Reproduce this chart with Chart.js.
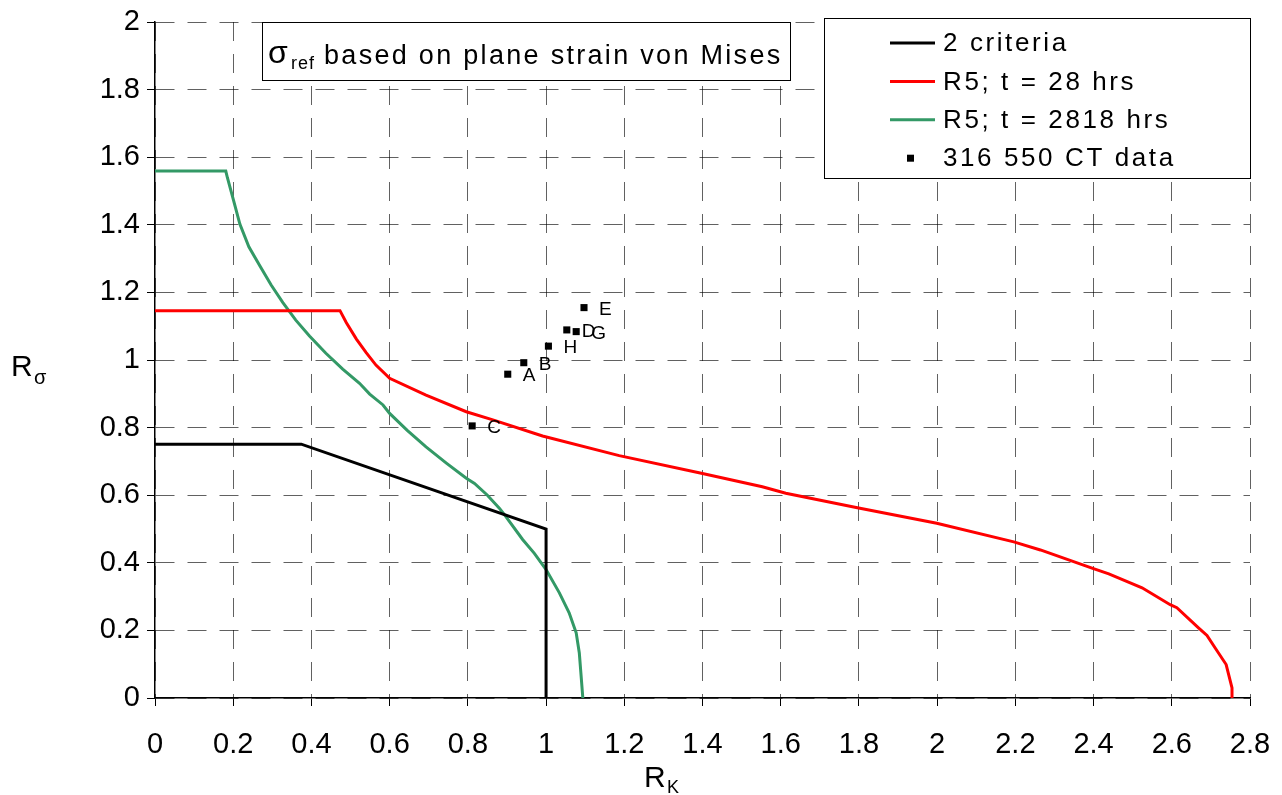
<!DOCTYPE html>
<html>
<head>
<meta charset="utf-8">
<script src="https://cdn.jsdelivr.net/npm/chart.js@4.4.0/dist/chart.umd.min.js"></script>
<style>
  body { margin: 0; background: #fff; }
  canvas { display: block; }
</style>
</head>
<body>
<canvas id="chartCanvas" width="1282" height="795"></canvas>
<script>
const seriesNames = ['2 criteria', 'R5; t = 28 hrs', 'R5; t = 2818 hrs', '316 550 CT data'];
const seriesColors = ['#000000', '#ff0000', '#339966', '#000000'];

const xTickValues = [0, 0.2, 0.4, 0.6, 0.8, 1, 1.2, 1.4, 1.6, 1.8, 2, 2.2, 2.4, 2.6, 2.8];
const yTickValues = [0, 0.2, 0.4, 0.6, 0.8, 1, 1.2, 1.4, 1.6, 1.8, 2];

const criteriaX = [0, 0.374, 1.0, 1.0];
const criteriaY = [0.751, 0.751, 0.5, 0];

const r5t28X = [0, 0.473, 0.489, 0.515, 0.540, 0.565, 0.600, 0.693, 0.796, 0.864, 0.991, 1.187, 1.397, 1.553,
  1.613, 1.796, 1.999, 2.196, 2.264, 2.396, 2.439, 2.524, 2.596, 2.613, 2.669, 2.690, 2.711, 2.739, 2.754, 2.754];
const r5t28Y = [1.146, 1.146, 1.111, 1.062, 1.022, 0.985, 0.946, 0.896, 0.847, 0.823, 0.775, 0.717, 0.665, 0.625,
  0.606, 0.563, 0.517, 0.462, 0.438, 0.384, 0.367, 0.326, 0.276, 0.267, 0.207, 0.185, 0.148, 0.099, 0.030, 0];

const r5t2818X = [0, 0.181, 0.185, 0.200, 0.217, 0.240, 0.268, 0.297, 0.327, 0.360, 0.395, 0.437, 0.480, 0.523,
  0.549, 0.583, 0.600, 0.645, 0.693, 0.745, 0.796, 0.817, 0.850, 0.881, 0.893, 0.940, 0.970, 1.000, 1.034, 1.059,
  1.077, 1.085, 1.089, 1.094];
const r5t2818Y = [1.559, 1.559, 1.540, 1.476, 1.402, 1.335, 1.279, 1.222, 1.170, 1.118, 1.071, 1.020, 0.973, 0.931,
  0.899, 0.867, 0.842, 0.792, 0.743, 0.695, 0.650, 0.635, 0.600, 0.561, 0.543, 0.469, 0.428, 0.380, 0.311, 0.252,
  0.193, 0.133, 0.074, 0];

const ctLabels = ['A', 'B', 'C', 'D', 'E', 'G', 'H'];
const ctDataX = [0.902, 0.943, 0.811, 1.053, 1.097, 1.077, 1.006];
const ctDataY = [0.958, 0.992, 0.805, 1.089, 1.155, 1.084, 1.041];

const FONT = "'Liberation Sans', Arial, sans-serif";

function toPoints(xs, ys) {
    return xs.map((x, i) => ({ x: x, y: ys[i] }));
}

function fmt(v) {
    return String(Math.round(v * 10) / 10);
}

// boxes, point labels and axis titles drawn on top of the plot
const overlayPlugin = {
    id: 'overlay',
    afterDatasetsDraw(chart) {
        const ctx = chart.ctx;
        ctx.save();
        ctx.fillStyle = '#000';

        // letters next to the CT points
        ctx.font = '19px ' + FONT;
        ctx.textBaseline = 'middle';
        ctx.textAlign = 'left';
        ctx.letterSpacing = '1px';
        chart.getDatasetMeta(3).data.forEach((pt, i) => {
            ctx.fillText(ctLabels[i], pt.x + 15, pt.y + 2);
        });

        // title box
        ctx.fillStyle = '#fff';
        ctx.fillRect(262, 22, 528, 58);
        ctx.strokeStyle = '#000';
        ctx.lineWidth = 1;
        ctx.strokeRect(262.5, 22.5, 528, 58);
        ctx.fillStyle = '#000';
        ctx.textBaseline = 'alphabetic';
        ctx.letterSpacing = '0px';
        ctx.font = '32px ' + FONT;
        ctx.fillText('σ', 268, 63);
        ctx.font = '18px ' + FONT;
        ctx.letterSpacing = '1px';
        ctx.fillText('ref', 291, 69);
        ctx.font = '27px ' + FONT;
        ctx.letterSpacing = '2.3px';
        ctx.fillText('based on plane strain von Mises', 324, 64);

        // legend box
        ctx.fillStyle = '#fff';
        ctx.fillRect(824, 18, 426, 160);
        ctx.strokeRect(824.5, 18.5, 426, 160);
        ctx.font = '26px ' + FONT;
        ctx.letterSpacing = '2.6px';
        ctx.textBaseline = 'middle';
        seriesNames.forEach((name, i) => {
            const y = 43 + i * 38.4;
            if (i < 3) {
                ctx.strokeStyle = seriesColors[i];
                ctx.lineWidth = 3;
                ctx.beginPath();
                ctx.moveTo(890, y);
                ctx.lineTo(935, y);
                ctx.stroke();
            } else {
                ctx.fillStyle = seriesColors[i];
                ctx.fillRect(907, y - 3.5, 7, 7);
            }
            ctx.fillStyle = '#000';
            ctx.fillText(name, 943, y + 1);
        });

        // axis titles
        ctx.letterSpacing = '0px';
        ctx.textBaseline = 'alphabetic';
        ctx.font = '30px ' + FONT;
        ctx.fillText('R', 11, 376);
        ctx.fillText('R', 644, 787);
        ctx.font = '20px ' + FONT;
        ctx.fillText('σ', 34, 384);
        ctx.font = '18px ' + FONT;
        ctx.fillText('K', 667, 793);
        ctx.restore();
    }
};

const gridCommon = {
    color: 'rgba(0,0,0,0.62)',
    lineWidth: 1,
    drawTicks: true,
    tickLength: 8,
    tickColor: '#000',
    tickWidth: 1,
    tickBorderDash: []
};

const ctx = document.getElementById('chartCanvas').getContext('2d');
const chart = new Chart(ctx, {
    type: 'scatter',
    data: {
        datasets: [
            {
                label: seriesNames[0],
                data: toPoints(criteriaX, criteriaY),
                showLine: true,
                borderColor: seriesColors[0],
                borderWidth: 3,
                pointRadius: 0,
                tension: 0
            },
            {
                label: seriesNames[1],
                data: toPoints(r5t28X, r5t28Y),
                showLine: true,
                borderColor: seriesColors[1],
                borderWidth: 3,
                pointRadius: 0,
                tension: 0
            },
            {
                label: seriesNames[2],
                data: toPoints(r5t2818X, r5t2818Y),
                showLine: true,
                borderColor: seriesColors[2],
                borderWidth: 3,
                pointRadius: 0,
                tension: 0
            },
            {
                label: seriesNames[3],
                data: toPoints(ctDataX, ctDataY),
                showLine: false,
                pointStyle: 'rect',
                pointRadius: 5,
                backgroundColor: seriesColors[3],
                borderColor: seriesColors[3],
                borderWidth: 0
            }
        ]
    },
    options: {
        responsive: false,
        animation: false,
        layout: {
            padding: { left: 0, top: 22, right: 32, bottom: 0 }
        },
        scales: {
            x: {
                type: 'linear',
                position: 'bottom',
                min: 0,
                max: 2.8,
                afterBuildTicks: axis => { axis.ticks = xTickValues.map(v => ({ value: v })); },
                afterFit: scale => {
                    scale.height = 97;
                    scale.paddingLeft = 0;
                    scale.paddingRight = 0;
                },
                ticks: {
                    color: '#000',
                    font: { family: FONT, size: 29 },
                    padding: 22,
                    maxRotation: 0,
                    autoSkip: false,
                    callback: v => fmt(v)
                },
                grid: gridCommon,
                border: { display: true, color: '#000', width: 1.5, dash: [19, 13] },
                title: { display: false }
            },
            y: {
                type: 'linear',
                min: 0,
                max: 2,
                afterBuildTicks: axis => { axis.ticks = yTickValues.map(v => ({ value: v })); },
                afterFit: scale => {
                    scale.width = 155;
                    scale.paddingTop = 0;
                    scale.paddingBottom = 0;
                },
                ticks: {
                    color: '#000',
                    font: { family: FONT, size: 29 },
                    padding: 7,
                    autoSkip: false,
                    callback: v => fmt(v)
                },
                grid: gridCommon,
                border: { display: true, color: '#000', width: 1.5, dash: [19, 13] },
                title: { display: false }
            }
        },
        plugins: {
            legend: { display: false },
            tooltip: { enabled: false }
        }
    },
    plugins: [overlayPlugin]
});
</script>
</body>
</html>
